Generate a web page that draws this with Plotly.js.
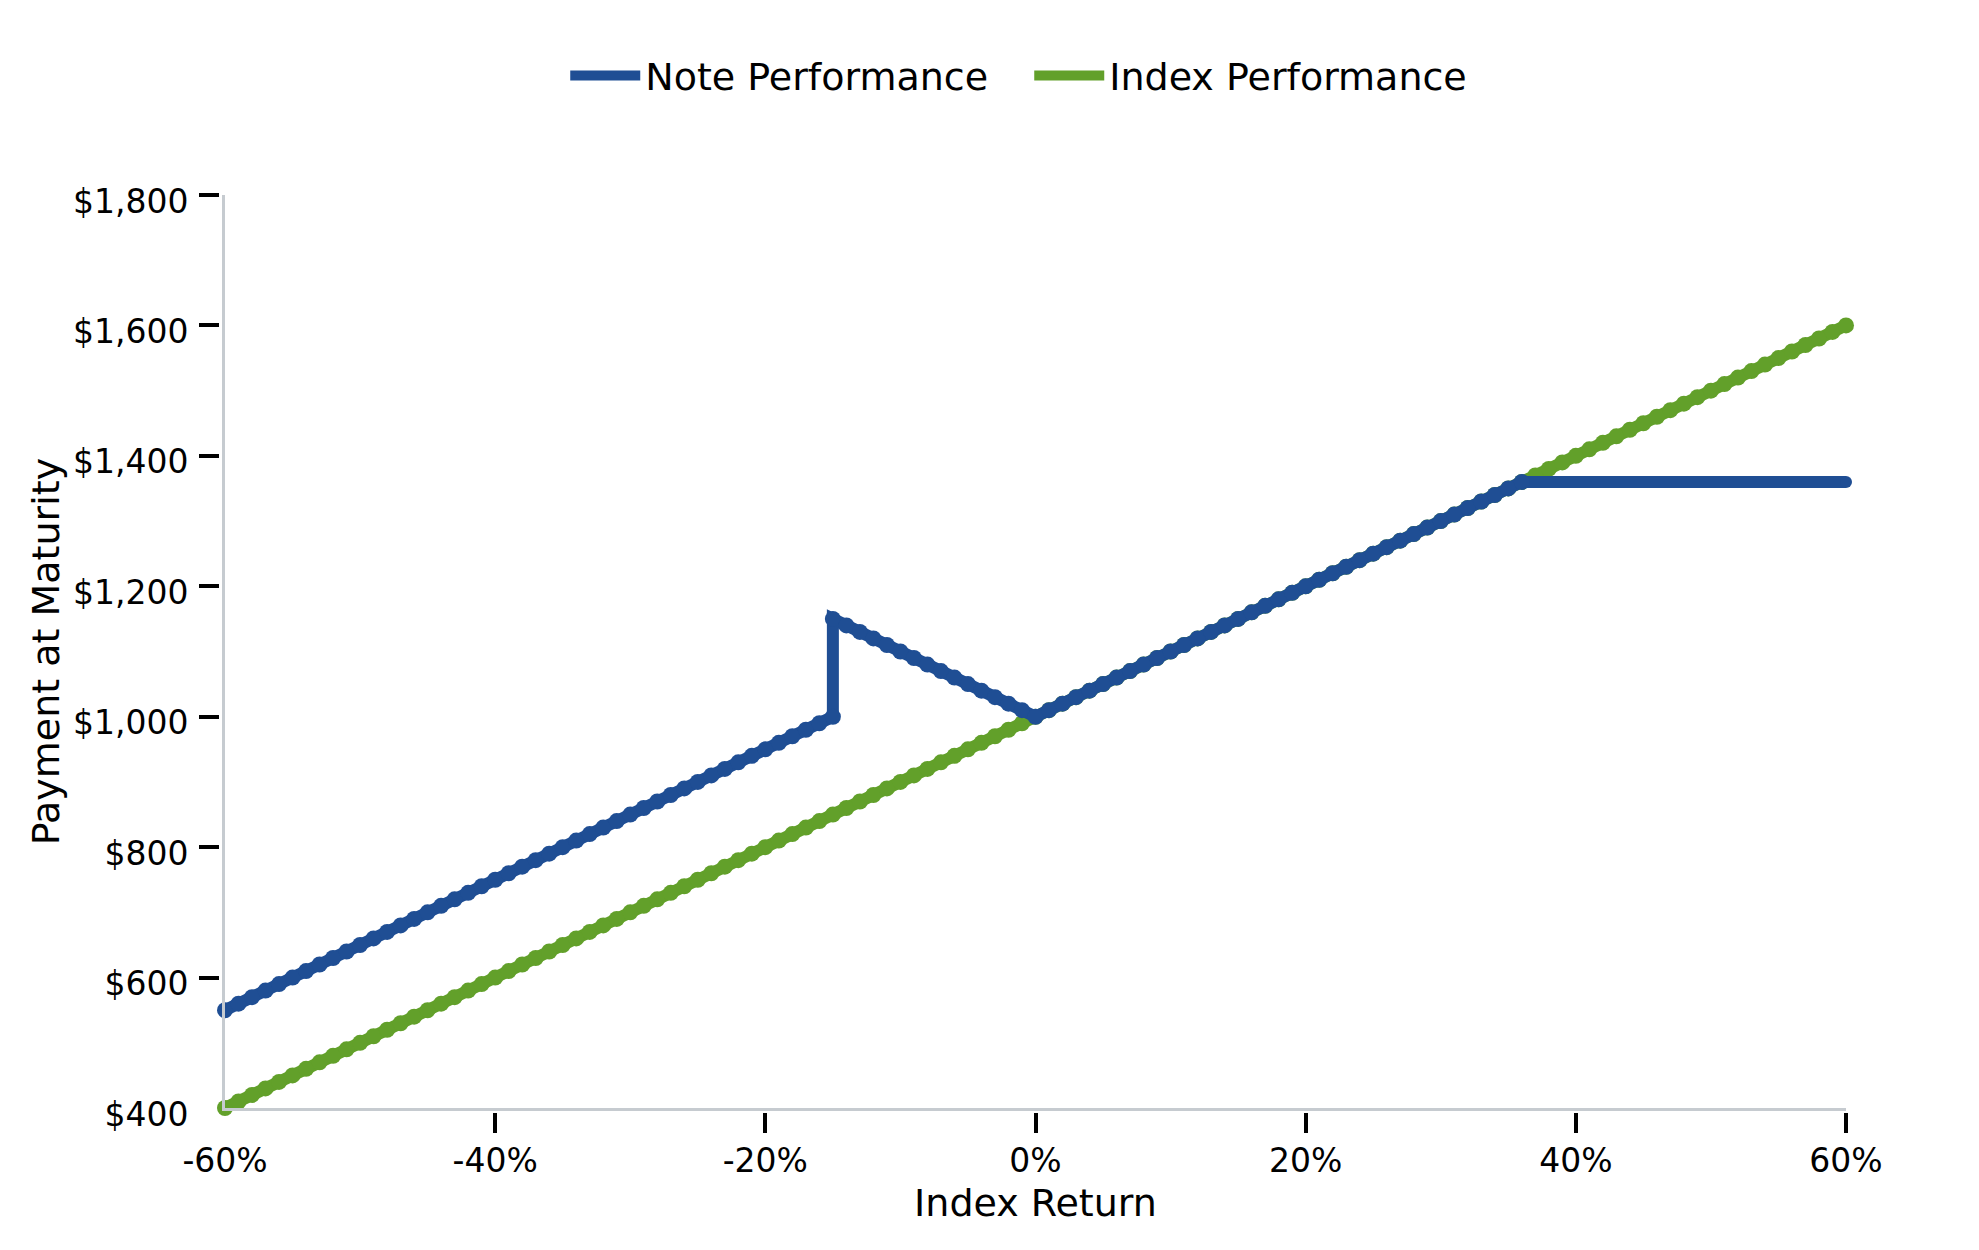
<!DOCTYPE html>
<html>
<head>
<meta charset="utf-8">
<script src="https://cdn.plot.ly/plotly-3.0.1.min.js"></script>
<style>html,body{margin:0;padding:0;background:#fff;}#chart{width:1979px;height:1250px;}</style>
</head>
<body>
<div id="chart"></div>
<script>
// Index return (%) for each point
const indexReturn = [-60,-59,-58,-57,-56,-55,-54,-53,-52,-51,-50,-49,-48,-47,-46,-45,-44,-43,-42,-41,
  -40,-39,-38,-37,-36,-35,-34,-33,-32,-31,-30,-29,-28,-27,-26,-25,-24,-23,-22,-21,
  -20,-19,-18,-17,-16,-15,-14,-13,-12,-11,-10,-9,-8,-7,-6,-5,-4,-3,-2,-1,
  0,1,2,3,4,5,6,7,8,9,10,11,12,13,14,15,16,17,18,19,
  20,21,22,23,24,25,26,27,28,29,30,31,32,33,34,35,36,37,38,39,
  40,41,42,43,44,45,46,47,48,49,50,51,52,53,54,55,56,57,58,59,60];
const indexPayment = [400,410,420,430,440,450,460,470,480,490,500,510,520,530,540,550,560,570,580,590,
  600,610,620,630,640,650,660,670,680,690,700,710,720,730,740,750,760,770,780,790,
  800,810,820,830,840,850,860,870,880,890,900,910,920,930,940,950,960,970,980,990,
  1000,1010,1020,1030,1040,1050,1060,1070,1080,1090,1100,1110,1120,1130,1140,1150,1160,1170,1180,1190,
  1200,1210,1220,1230,1240,1250,1260,1270,1280,1290,1300,1310,1320,1330,1340,1350,1360,1370,1380,1390,
  1400,1410,1420,1430,1440,1450,1460,1470,1480,1490,1500,1510,1520,1530,1540,1550,1560,1570,1580,1590,1600];

// Note: -15% appears twice (jump)
const noteReturn = [-60,-59,-58,-57,-56,-55,-54,-53,-52,-51,-50,-49,-48,-47,-46,-45,-44,-43,-42,-41,
  -40,-39,-38,-37,-36,-35,-34,-33,-32,-31,-30,-29,-28,-27,-26,-25,-24,-23,-22,-21,
  -20,-19,-18,-17,-16,-15,-15,-14,-13,-12,-11,-10,-9,-8,-7,-6,-5,-4,-3,-2,-1,
  0,1,2,3,4,5,6,7,8,9,10,11,12,13,14,15,16,17,18,19,
  20,21,22,23,24,25,26,27,28,29,30,31,32,33,34,35,36,37,38,39,
  40,41,42,43,44,45,46,47,48,49,50,51,52,53,54,55,56,57,58,59,60];
const notePayment = [550,560,570,580,590,600,610,620,630,640,650,660,670,680,690,700,710,720,730,740,
  750,760,770,780,790,800,810,820,830,840,850,860,870,880,890,900,910,920,930,940,
  950,960,970,980,990,1000,1150,1140,1130,1120,1110,1100,1090,1080,1070,1060,1050,1040,1030,1020,1010,
  1000,1010,1020,1030,1040,1050,1060,1070,1080,1090,1100,1110,1120,1130,1140,1150,1160,1170,1180,1190,
  1200,1210,1220,1230,1240,1250,1260,1270,1280,1290,1300,1310,1320,1330,1340,1350,1360,1360,1360,1360,
  1360,1360,1360,1360,1360,1360,1360,1360,1360,1360,1360,1360,1360,1360,1360,1360,1360,1360,1360,1360,1360];

const xTickVals = [-60,-40,-20,0,20,40,60];
const xTickText = ['-60%','-40%','-20%','0%','20%','40%','60%'];
const xTickMarks = [-40,-20,0,20,40,60];
const yTickVals = [400,600,800,1000,1200,1400,1600,1800];
const yTickText = ['$400','$600','$800','$1,000','$1,200','$1,400','$1,600','$1,800'];
const yTickMarks = [600,800,1000,1200,1400,1600,1800];

const BLUE = '#1f4e94';
const GREEN = '#62a02a';
const AXIS_GRAY = '#c6cbd0';
const FONT = 'DejaVu Sans, Verdana, sans-serif';
const LINE_W = 12, DOT = 16;

// style: dots on the sloped part, plain line on the capped part (round end)
const noteMarkerSize = noteReturn.map(function (r, i) {
  return i === noteReturn.length - 1 ? LINE_W : (r <= 36 ? DOT : 0);
});

const traces = [
  {x: indexReturn, y: indexPayment, name: 'Index Performance', type: 'scatter', mode: 'lines+markers',
   line: {color: GREEN, width: LINE_W}, marker: {color: GREEN, size: DOT, opacity: 1, line: {width: 0}}, cliponaxis: false,
   showlegend: false, legendgroup: 'idx', hoverinfo: 'skip'},
  {x: noteReturn, y: notePayment, name: 'Note Performance', type: 'scatter', mode: 'lines+markers',
   line: {color: BLUE, width: LINE_W}, marker: {color: BLUE, size: noteMarkerSize, opacity: 1, line: {width: 0}}, cliponaxis: false,
   showlegend: false, legendgroup: 'note', hoverinfo: 'skip'},
  // legend entries (line only, like the reference legend)
  {x: [null], y: [null], name: 'Index Performance', type: 'scatter', mode: 'lines', legendgroup: 'idx',
   line: {color: GREEN, width: LINE_W}, hoverinfo: 'skip'},
  {x: [null], y: [null], name: 'Note Performance', type: 'scatter', mode: 'lines', legendgroup: 'note',
   line: {color: BLUE, width: LINE_W}, hoverinfo: 'skip'},
  {x: [], y: [], xaxis: 'x2', yaxis: 'y2', type: 'scatter', mode: 'lines', showlegend: false, hoverinfo: 'skip'}
];

const layout = {
  width: 1979, height: 1250,
  margin: {l: 219, r: 133, t: 195, b: 138, pad: 0},
  paper_bgcolor: '#ffffff', plot_bgcolor: '#ffffff',
  font: {family: FONT, color: '#000000', size: 33},
  showlegend: true,
  legend: {orientation: 'h', x: 0.498, xanchor: 'center', y: 1.13, yanchor: 'middle',
           traceorder: 'reversed', font: {family: FONT, size: 38, color: '#000'}, itemwidth: 70,
           entrywidth: 379, entrywidthmode: 'pixels'},
  xaxis: {domain: [0.00369, 1], range: [-60, 60], anchor: 'y', showline: true, linecolor: AXIS_GRAY, linewidth: 3,
          showgrid: false, zeroline: false, ticks: '', tickmode: 'array', tickvals: xTickVals, ticktext: xTickText,
          tickfont: {family: FONT, size: 33, color: '#000'}, ticklabelstandoff: 21,
          title: {text: 'Index Return', font: {family: FONT, size: 38, color: '#000'}, standoff: 11}},
  yaxis: {domain: [0.00436, 1], range: [400, 1800], anchor: 'x', showline: true, linecolor: AXIS_GRAY, linewidth: 3,
          showgrid: false, zeroline: false, ticks: '', tickmode: 'array', tickvals: yTickVals, ticktext: yTickText,
          tickfont: {family: FONT, size: 33, color: '#000'}, ticklabelstandoff: 27, ticklabelshift: 6,
          title: {text: 'Payment at Maturity', font: {family: FONT, size: 38, color: '#000'}, standoff: 2}},
  xaxis2: {overlaying: 'x', anchor: 'free', position: 0, range: [-60, 60], showline: false, showgrid: false, zeroline: false,
           tickmode: 'array', tickvals: xTickMarks, ticks: 'outside', ticklen: 20, tickwidth: 4, tickcolor: '#000',
           showticklabels: false},
  yaxis2: {overlaying: 'y', anchor: 'free', position: 0, side: 'left', range: [400, 1800], showline: false, showgrid: false, zeroline: false,
           tickmode: 'array', tickvals: yTickMarks, ticks: 'outside', ticklen: 20, tickwidth: 4, tickcolor: '#000',
           showticklabels: false}
};

Plotly.newPlot('chart', traces, layout, {displayModeBar: false, staticPlot: true});
</script>
</body>
</html>
